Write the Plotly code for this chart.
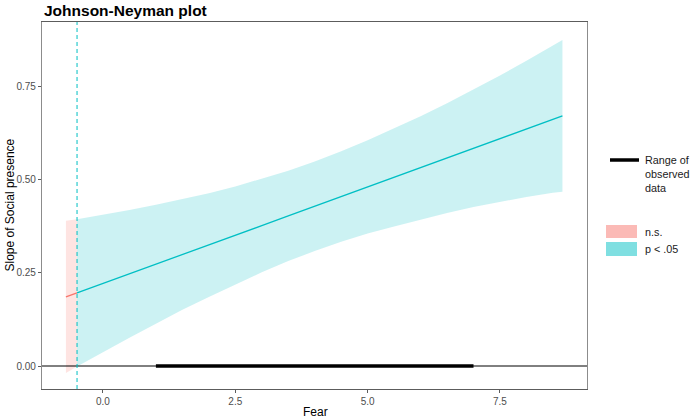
import plotly.graph_objects as go

# Moderator values (Fear) and simple-slope estimates
fear = [-0.70, -0.49, 0.0, 0.5, 1.0, 1.5, 2.0, 2.5, 3.0, 3.5, 4.0, 4.5, 5.0,
        5.5, 6.0, 6.5, 7.0, 7.5, 8.0, 8.5, 8.68]
slope = [0.185, 0.196, 0.221, 0.247, 0.273, 0.299, 0.324, 0.350, 0.376, 0.402,
         0.428, 0.454, 0.480, 0.505, 0.531, 0.557, 0.583, 0.609, 0.635, 0.661, 0.670]
upper = [0.389, 0.393, 0.405, 0.418, 0.432, 0.447, 0.463, 0.481, 0.501, 0.523,
         0.548, 0.575, 0.605, 0.636, 0.669, 0.704, 0.740, 0.778, 0.818, 0.858, 0.873]
lower = [-0.019, -0.001, 0.037, 0.076, 0.114, 0.151, 0.185, 0.219, 0.251, 0.281,
         0.308, 0.333, 0.355, 0.374, 0.393, 0.410, 0.426, 0.440, 0.453, 0.464, 0.467]
jn_bound = -0.49
observed_range = [1.0, 7.0]
x_ticks = [0.0, 2.5, 5.0, 7.5]
y_ticks = [0.00, 0.25, 0.50, 0.75]

NS = "#F8766D"
SIG = "#00BFC4"

ns_idx = [i for i, v in enumerate(fear) if v <= jn_bound]
sig_idx = [i for i, v in enumerate(fear) if v >= jn_bound]


def band(idx, color):
    xs = [fear[i] for i in idx]
    up = [upper[i] for i in idx]
    lo = [lower[i] for i in idx]
    return go.Scatter(x=xs + xs[::-1], y=up + lo[::-1], fill="toself",
                      fillcolor=color, line=dict(width=0), mode="lines",
                      hoverinfo="skip", showlegend=False)


fig = go.Figure()
fig.add_trace(band(ns_idx, "rgba(248,118,109,0.2)"))
fig.add_trace(band(sig_idx, "rgba(0,191,196,0.2)"))
fig.add_trace(go.Scatter(x=[fear[i] for i in ns_idx], y=[slope[i] for i in ns_idx],
                         mode="lines", line=dict(color=NS, width=1.3), showlegend=False))
fig.add_trace(go.Scatter(x=[fear[i] for i in sig_idx], y=[slope[i] for i in sig_idx],
                         mode="lines", line=dict(color=SIG, width=1.3), showlegend=False))
# zero line
fig.add_trace(go.Scatter(x=[-1.152, 9.144], y=[0, 0], mode="lines",
                         line=dict(color="black", width=1), showlegend=False))
# observed range
fig.add_trace(go.Scatter(x=observed_range, y=[0, 0], mode="lines",
                         line=dict(color="black", width=3.5), showlegend=False))

# Johnson-Neyman boundary
fig.add_shape(type="line", xref="x", yref="paper", x0=jn_bound, x1=jn_bound, y0=0, y1=1,
              line=dict(color=SIG, width=1, dash="4px,3px"))

# Legend drawn manually
def px_x(p):
    return (p - 42) / 545.0


def px_y(p):
    return (389 - p) / 367.0


fig.add_shape(type="line", xref="paper", yref="paper", x0=px_x(610), x1=px_x(639),
              y0=px_y(160), y1=px_y(160), line=dict(color="black", width=3.5))
fig.add_shape(type="rect", xref="paper", yref="paper", x0=px_x(606), x1=px_x(637),
              y0=px_y(238), y1=px_y(225), fillcolor="rgba(248,118,109,0.5)", line=dict(width=0))
fig.add_shape(type="rect", xref="paper", yref="paper", x0=px_x(606), x1=px_x(637),
              y0=px_y(256), y1=px_y(242), fillcolor="rgba(0,191,196,0.5)", line=dict(width=0))

legend_font = dict(family="Liberation Sans, Arial", size=10.8, color="#1a1a1a")
for txt, yy in [("Range of", 160), ("observed", 174), ("data", 188),
                ("n.s.", 232), ("p < .05", 249)]:
    fig.add_annotation(xref="paper", yref="paper", x=px_x(643), y=px_y(yy), text=txt,
                       showarrow=False, xanchor="left", yanchor="middle", font=legend_font)

fig.add_annotation(xref="paper", yref="paper", x=0, y=px_y(11), text="<b>Johnson-Neyman plot</b>",
                   showarrow=False, xanchor="left", yanchor="middle",
                   font=dict(family="Liberation Sans, Arial", size=15.5, color="black"))
fig.add_annotation(xref="paper", yref="paper", x=0.501, y=px_y(412), text="Fear",
                   showarrow=False, xanchor="center", yanchor="middle",
                   font=dict(family="Liberation Sans, Arial", size=12, color="black"))
fig.add_annotation(xref="paper", yref="paper", x=px_x(9), y=0.5, text="Slope of Social presence",
                   textangle=-90, showarrow=False, xanchor="center", yanchor="middle",
                   font=dict(family="Liberation Sans, Arial", size=12, color="black"))

fig.update_layout(
    width=690, height=420,
    margin=dict(l=42, r=103, t=22, b=31),
    paper_bgcolor="white", plot_bgcolor="white",
    font=dict(family="Liberation Sans, Arial"),
    showlegend=False,
)
fig.update_xaxes(range=[-1.152, 9.144], tickvals=x_ticks, tickformat=".1f",
                 showgrid=False, zeroline=False, showline=True, linecolor="#5c5c5c",
                 linewidth=1.3, mirror=True, ticks="outside", ticklen=3, tickcolor="#5c5c5c",
                 tickfont=dict(size=10, color="#4d4d4d"))
fig.update_yaxes(range=[-0.0616, 0.9215], tickvals=y_ticks, tickformat=".2f",
                 showgrid=False, zeroline=False, showline=True, linecolor="#8c8c8c",
                 linewidth=1.3, mirror=True, ticks="outside", ticklen=3, tickcolor="#5c5c5c",
                 tickfont=dict(size=10, color="#4d4d4d"))

fig.write_html("out.html", config={"displayModeBar": False},
               post_script="document.body.style.margin='0';document.body.style.overflow='hidden';")
